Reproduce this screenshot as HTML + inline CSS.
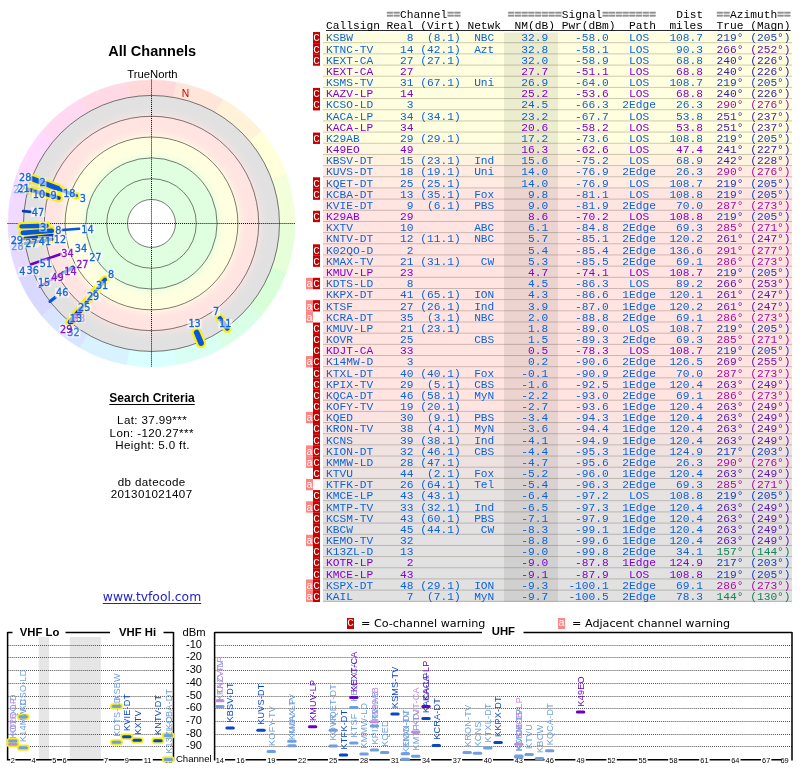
<!DOCTYPE html>
<html lang="en"><head><meta charset="utf-8"><title>TV Fool - All Channels</title>
<style>
html,body{margin:0;padding:0;background:#fff}
body{width:800px;height:768px;position:relative;overflow:hidden;font-family:"Liberation Sans",sans-serif;color:#000}
.abs{position:absolute}
.c{position:absolute;white-space:nowrap;transform:translateX(-50%);line-height:1}
.mono{position:absolute;white-space:pre;font-family:"Liberation Mono",monospace;font-size:10.0px;line-height:12px;height:12px;transform-origin:0 0;transform:scaleX(1.1220);left:326.35px}
.g{color:#909090;font-weight:bold;-webkit-text-stroke:.45px #909090}
.row{position:absolute;left:323px;width:469px}
.sep{position:absolute;left:323px;width:469px;height:1px;background:rgba(40,30,0,.2)}
.fl{position:absolute;width:7px;color:#fff;font-family:"Liberation Mono",monospace;font-size:10px;text-align:center;overflow:hidden}
.fl span{display:block;transform:scaleX(1.1)}
.fa{left:306px}
.fc{left:313px}
svg{position:absolute;left:0;top:0}
svg text{font-family:"DejaVu Sans","Liberation Sans",sans-serif}
</style></head><body><div id="w" style="position:absolute;left:0;top:0;width:800px;height:768px;will-change:transform">

<svg width="800" height="768" viewBox="0 0 800 768">
<rect x="323" y="32.48" width="469" height="11.02" fill="#ffffe0"/>
<rect x="323" y="43.20" width="469" height="11.47" fill="#ffffe0"/>
<rect x="323" y="54.37" width="469" height="11.47" fill="#ffffe0"/>
<rect x="323" y="65.55" width="469" height="11.47" fill="#ffffe0"/>
<rect x="323" y="76.72" width="469" height="11.47" fill="#ffffe0"/>
<rect x="323" y="87.89" width="469" height="11.47" fill="#ffffe0"/>
<rect x="323" y="99.06" width="469" height="11.47" fill="#ffffe0"/>
<rect x="323" y="110.23" width="469" height="11.47" fill="#ffffe0"/>
<rect x="323" y="121.41" width="469" height="11.47" fill="#ffffe0"/>
<rect x="323" y="132.58" width="469" height="11.47" fill="#ffffe0"/>
<rect x="323" y="143.75" width="469" height="11.47" fill="#fff8e0"/>
<rect x="323" y="154.92" width="469" height="11.47" fill="#fff3e0"/>
<rect x="323" y="166.09" width="469" height="11.47" fill="#ffebe1"/>
<rect x="323" y="177.27" width="469" height="11.47" fill="#ffebe1"/>
<rect x="323" y="188.44" width="469" height="11.47" fill="#ffe5e1"/>
<rect x="323" y="199.61" width="469" height="11.47" fill="#ffe5e1"/>
<rect x="323" y="210.78" width="469" height="11.47" fill="#ffe5e1"/>
<rect x="323" y="221.95" width="469" height="11.47" fill="#ffe4e1"/>
<rect x="323" y="233.13" width="469" height="11.47" fill="#ffe4e1"/>
<rect x="323" y="244.30" width="469" height="11.47" fill="#ffe4e1"/>
<rect x="323" y="255.47" width="469" height="11.47" fill="#ffe4e1"/>
<rect x="323" y="266.64" width="469" height="11.47" fill="#ffe4e1"/>
<rect x="323" y="277.81" width="469" height="11.47" fill="#ffe4e1"/>
<rect x="323" y="288.99" width="469" height="11.47" fill="#ffe4e1"/>
<rect x="323" y="300.16" width="469" height="11.47" fill="#ffe4e1"/>
<rect x="323" y="311.33" width="469" height="11.47" fill="#ffe4e1"/>
<rect x="323" y="322.50" width="469" height="11.47" fill="#ffe4e1"/>
<rect x="323" y="333.67" width="469" height="11.47" fill="#ffe4e1"/>
<rect x="323" y="344.85" width="469" height="11.47" fill="#ffe4e1"/>
<rect x="323" y="356.02" width="469" height="11.47" fill="#ffe4e1"/>
<rect x="323" y="367.19" width="469" height="11.47" fill="#ffe4e1"/>
<rect x="323" y="378.36" width="469" height="11.47" fill="#ffe4e1"/>
<rect x="323" y="389.53" width="469" height="11.47" fill="#ffe4e1"/>
<rect x="323" y="400.71" width="469" height="11.47" fill="#ffe4e1"/>
<rect x="323" y="411.88" width="469" height="11.47" fill="#fae3e1"/>
<rect x="323" y="423.05" width="469" height="11.47" fill="#f7e3e1"/>
<rect x="323" y="434.22" width="469" height="11.47" fill="#f2e3e1"/>
<rect x="323" y="445.39" width="469" height="11.47" fill="#f0e2e1"/>
<rect x="323" y="456.57" width="469" height="11.47" fill="#eee2e1"/>
<rect x="323" y="467.74" width="469" height="11.47" fill="#ebe2e1"/>
<rect x="323" y="478.91" width="469" height="11.47" fill="#eae2e1"/>
<rect x="323" y="490.08" width="469" height="11.47" fill="#e6e2e1"/>
<rect x="323" y="501.25" width="469" height="11.47" fill="#e6e2e1"/>
<rect x="323" y="512.43" width="469" height="11.47" fill="#e5e1e1"/>
<rect x="323" y="523.60" width="469" height="11.47" fill="#e3e1e1"/>
<rect x="323" y="534.77" width="469" height="11.47" fill="#e3e1e1"/>
<rect x="323" y="545.94" width="469" height="11.47" fill="#e2e1e1"/>
<rect x="323" y="557.11" width="469" height="11.47" fill="#e2e1e1"/>
<rect x="323" y="568.29" width="469" height="11.47" fill="#e2e1e1"/>
<rect x="323" y="579.46" width="469" height="11.47" fill="#e2e1e1"/>
<rect x="323" y="590.63" width="469" height="11.47" fill="#e2e1e1"/>
<rect x="504" y="32.48" width="54" height="569.32" fill="#282828" fill-opacity=".085"/>
<rect x="323" y="42.20" width="469" height="1" fill="#281e00" fill-opacity=".23"/>
<rect x="323" y="53.37" width="469" height="1" fill="#281e00" fill-opacity=".23"/>
<rect x="323" y="64.55" width="469" height="1" fill="#281e00" fill-opacity=".23"/>
<rect x="323" y="75.72" width="469" height="1" fill="#281e00" fill-opacity=".23"/>
<rect x="323" y="86.89" width="469" height="1" fill="#281e00" fill-opacity=".23"/>
<rect x="323" y="98.06" width="469" height="1" fill="#281e00" fill-opacity=".23"/>
<rect x="323" y="109.23" width="469" height="1" fill="#281e00" fill-opacity=".23"/>
<rect x="323" y="120.41" width="469" height="1" fill="#281e00" fill-opacity=".23"/>
<rect x="323" y="131.58" width="469" height="1" fill="#281e00" fill-opacity=".23"/>
<rect x="323" y="142.75" width="469" height="1" fill="#281e00" fill-opacity=".23"/>
<rect x="323" y="153.92" width="469" height="1" fill="#281e00" fill-opacity=".23"/>
<rect x="323" y="165.09" width="469" height="1" fill="#281e00" fill-opacity=".23"/>
<rect x="323" y="176.27" width="469" height="1" fill="#281e00" fill-opacity=".23"/>
<rect x="323" y="187.44" width="469" height="1" fill="#281e00" fill-opacity=".23"/>
<rect x="323" y="198.61" width="469" height="1" fill="#281e00" fill-opacity=".23"/>
<rect x="323" y="209.78" width="469" height="1" fill="#281e00" fill-opacity=".23"/>
<rect x="323" y="220.95" width="469" height="1" fill="#281e00" fill-opacity=".23"/>
<rect x="323" y="232.13" width="469" height="1" fill="#281e00" fill-opacity=".23"/>
<rect x="323" y="243.30" width="469" height="1" fill="#281e00" fill-opacity=".23"/>
<rect x="323" y="254.47" width="469" height="1" fill="#281e00" fill-opacity=".23"/>
<rect x="323" y="265.64" width="469" height="1" fill="#281e00" fill-opacity=".23"/>
<rect x="323" y="276.81" width="469" height="1" fill="#281e00" fill-opacity=".23"/>
<rect x="323" y="287.99" width="469" height="1" fill="#281e00" fill-opacity=".23"/>
<rect x="323" y="299.16" width="469" height="1" fill="#281e00" fill-opacity=".23"/>
<rect x="323" y="310.33" width="469" height="1" fill="#281e00" fill-opacity=".23"/>
<rect x="323" y="321.50" width="469" height="1" fill="#281e00" fill-opacity=".23"/>
<rect x="323" y="332.67" width="469" height="1" fill="#281e00" fill-opacity=".23"/>
<rect x="323" y="343.85" width="469" height="1" fill="#281e00" fill-opacity=".23"/>
<rect x="323" y="355.02" width="469" height="1" fill="#281e00" fill-opacity=".23"/>
<rect x="323" y="366.19" width="469" height="1" fill="#281e00" fill-opacity=".23"/>
<rect x="323" y="377.36" width="469" height="1" fill="#281e00" fill-opacity=".23"/>
<rect x="323" y="388.53" width="469" height="1" fill="#281e00" fill-opacity=".23"/>
<rect x="323" y="399.71" width="469" height="1" fill="#281e00" fill-opacity=".23"/>
<rect x="323" y="410.88" width="469" height="1" fill="#281e00" fill-opacity=".23"/>
<rect x="323" y="422.05" width="469" height="1" fill="#281e00" fill-opacity=".23"/>
<rect x="323" y="433.22" width="469" height="1" fill="#281e00" fill-opacity=".23"/>
<rect x="323" y="444.39" width="469" height="1" fill="#281e00" fill-opacity=".23"/>
<rect x="323" y="455.57" width="469" height="1" fill="#281e00" fill-opacity=".23"/>
<rect x="323" y="466.74" width="469" height="1" fill="#281e00" fill-opacity=".23"/>
<rect x="323" y="477.91" width="469" height="1" fill="#281e00" fill-opacity=".23"/>
<rect x="323" y="489.08" width="469" height="1" fill="#281e00" fill-opacity=".23"/>
<rect x="323" y="500.25" width="469" height="1" fill="#281e00" fill-opacity=".23"/>
<rect x="323" y="511.43" width="469" height="1" fill="#281e00" fill-opacity=".23"/>
<rect x="323" y="522.60" width="469" height="1" fill="#281e00" fill-opacity=".23"/>
<rect x="323" y="533.77" width="469" height="1" fill="#281e00" fill-opacity=".23"/>
<rect x="323" y="544.94" width="469" height="1" fill="#281e00" fill-opacity=".23"/>
<rect x="323" y="556.11" width="469" height="1" fill="#281e00" fill-opacity=".23"/>
<rect x="323" y="567.29" width="469" height="1" fill="#281e00" fill-opacity=".23"/>
<rect x="323" y="578.46" width="469" height="1" fill="#281e00" fill-opacity=".23"/>
<rect x="323" y="589.63" width="469" height="1" fill="#281e00" fill-opacity=".23"/>
<rect x="323" y="600.80" width="469" height="1" fill="#281e00" fill-opacity=".23"/>
<rect x="313" y="32.03" width="7" height="11.37" fill="#c80000"/>
<rect x="313" y="43.20" width="7" height="11.37" fill="#c80000"/>
<rect x="313" y="54.37" width="7" height="11.37" fill="#c80000"/>
<rect x="313" y="87.89" width="7" height="11.37" fill="#c80000"/>
<rect x="313" y="99.06" width="7" height="11.37" fill="#c80000"/>
<rect x="313" y="132.58" width="7" height="11.37" fill="#c80000"/>
<rect x="313" y="177.27" width="7" height="11.37" fill="#c80000"/>
<rect x="313" y="188.44" width="7" height="11.37" fill="#c80000"/>
<rect x="313" y="210.78" width="7" height="11.37" fill="#c80000"/>
<rect x="313" y="244.30" width="7" height="11.37" fill="#c80000"/>
<rect x="313" y="255.47" width="7" height="11.37" fill="#c80000"/>
<rect x="306" y="277.81" width="7" height="11.37" fill="#ff8484"/>
<rect x="313" y="277.81" width="7" height="11.37" fill="#c80000"/>
<rect x="306" y="300.16" width="7" height="11.37" fill="#ff8484"/>
<rect x="313" y="300.16" width="7" height="11.37" fill="#c80000"/>
<rect x="306" y="311.33" width="7" height="11.37" fill="#ff8484"/>
<rect x="313" y="322.50" width="7" height="11.37" fill="#c80000"/>
<rect x="313" y="333.67" width="7" height="11.37" fill="#c80000"/>
<rect x="313" y="344.85" width="7" height="11.37" fill="#c80000"/>
<rect x="306" y="356.02" width="7" height="11.37" fill="#ff8484"/>
<rect x="313" y="356.02" width="7" height="11.37" fill="#c80000"/>
<rect x="313" y="367.19" width="7" height="11.37" fill="#c80000"/>
<rect x="313" y="378.36" width="7" height="11.37" fill="#c80000"/>
<rect x="313" y="389.53" width="7" height="11.37" fill="#c80000"/>
<rect x="313" y="400.71" width="7" height="11.37" fill="#c80000"/>
<rect x="306" y="411.88" width="7" height="11.37" fill="#ff8484"/>
<rect x="313" y="411.88" width="7" height="11.37" fill="#c80000"/>
<rect x="313" y="423.05" width="7" height="11.37" fill="#c80000"/>
<rect x="313" y="434.22" width="7" height="11.37" fill="#c80000"/>
<rect x="306" y="445.39" width="7" height="11.37" fill="#ff8484"/>
<rect x="313" y="445.39" width="7" height="11.37" fill="#c80000"/>
<rect x="306" y="456.57" width="7" height="11.37" fill="#ff8484"/>
<rect x="313" y="456.57" width="7" height="11.37" fill="#c80000"/>
<rect x="313" y="467.74" width="7" height="11.37" fill="#c80000"/>
<rect x="306" y="478.91" width="7" height="11.37" fill="#ff8484"/>
<rect x="313" y="490.08" width="7" height="11.37" fill="#c80000"/>
<rect x="306" y="501.25" width="7" height="11.37" fill="#ff8484"/>
<rect x="313" y="501.25" width="7" height="11.37" fill="#c80000"/>
<rect x="313" y="512.43" width="7" height="11.37" fill="#c80000"/>
<rect x="313" y="523.60" width="7" height="11.37" fill="#c80000"/>
<rect x="306" y="534.77" width="7" height="11.37" fill="#ff8484"/>
<rect x="313" y="534.77" width="7" height="11.37" fill="#c80000"/>
<rect x="313" y="545.94" width="7" height="11.37" fill="#c80000"/>
<rect x="313" y="557.11" width="7" height="11.37" fill="#c80000"/>
<rect x="313" y="568.29" width="7" height="11.37" fill="#c80000"/>
<rect x="306" y="579.46" width="7" height="11.37" fill="#ff8484"/>
<rect x="313" y="579.46" width="7" height="11.37" fill="#c80000"/>
<rect x="306" y="590.63" width="7" height="11.37" fill="#ff8484"/>
<rect x="313" y="590.63" width="7" height="11.37" fill="#c80000"/>
</svg>
<div class="fl fc" style="top:32.55px;height:12px;line-height:12px"><span>C</span></div>
<div class="fl fc" style="top:44.55px;height:12px;line-height:12px"><span>C</span></div>
<div class="fl fc" style="top:55.55px;height:12px;line-height:12px"><span>C</span></div>
<div class="fl fc" style="top:88.55px;height:12px;line-height:12px"><span>C</span></div>
<div class="fl fc" style="top:99.55px;height:12px;line-height:12px"><span>C</span></div>
<div class="fl fc" style="top:133.55px;height:12px;line-height:12px"><span>C</span></div>
<div class="fl fc" style="top:178.55px;height:12px;line-height:12px"><span>C</span></div>
<div class="fl fc" style="top:189.55px;height:12px;line-height:12px"><span>C</span></div>
<div class="fl fc" style="top:211.55px;height:12px;line-height:12px"><span>C</span></div>
<div class="fl fc" style="top:245.55px;height:12px;line-height:12px"><span>C</span></div>
<div class="fl fc" style="top:256.55px;height:12px;line-height:12px"><span>C</span></div>
<div class="fl fa" style="top:278.55px;height:12px;line-height:12px"><span>a</span></div>
<div class="fl fc" style="top:278.55px;height:12px;line-height:12px"><span>C</span></div>
<div class="fl fa" style="top:301.55px;height:12px;line-height:12px"><span>a</span></div>
<div class="fl fc" style="top:301.55px;height:12px;line-height:12px"><span>C</span></div>
<div class="fl fa" style="top:312.55px;height:12px;line-height:12px"><span>a</span></div>
<div class="fl fc" style="top:323.55px;height:12px;line-height:12px"><span>C</span></div>
<div class="fl fc" style="top:334.55px;height:12px;line-height:12px"><span>C</span></div>
<div class="fl fc" style="top:345.55px;height:12px;line-height:12px"><span>C</span></div>
<div class="fl fa" style="top:356.55px;height:12px;line-height:12px"><span>a</span></div>
<div class="fl fc" style="top:356.55px;height:12px;line-height:12px"><span>C</span></div>
<div class="fl fc" style="top:368.55px;height:12px;line-height:12px"><span>C</span></div>
<div class="fl fc" style="top:379.55px;height:12px;line-height:12px"><span>C</span></div>
<div class="fl fc" style="top:390.55px;height:12px;line-height:12px"><span>C</span></div>
<div class="fl fc" style="top:401.55px;height:12px;line-height:12px"><span>C</span></div>
<div class="fl fa" style="top:412.55px;height:12px;line-height:12px"><span>a</span></div>
<div class="fl fc" style="top:412.55px;height:12px;line-height:12px"><span>C</span></div>
<div class="fl fc" style="top:423.55px;height:12px;line-height:12px"><span>C</span></div>
<div class="fl fc" style="top:435.55px;height:12px;line-height:12px"><span>C</span></div>
<div class="fl fa" style="top:446.55px;height:12px;line-height:12px"><span>a</span></div>
<div class="fl fc" style="top:446.55px;height:12px;line-height:12px"><span>C</span></div>
<div class="fl fa" style="top:457.55px;height:12px;line-height:12px"><span>a</span></div>
<div class="fl fc" style="top:457.55px;height:12px;line-height:12px"><span>C</span></div>
<div class="fl fc" style="top:468.55px;height:12px;line-height:12px"><span>C</span></div>
<div class="fl fa" style="top:479.55px;height:12px;line-height:12px"><span>a</span></div>
<div class="fl fc" style="top:490.55px;height:12px;line-height:12px"><span>C</span></div>
<div class="fl fa" style="top:502.55px;height:12px;line-height:12px"><span>a</span></div>
<div class="fl fc" style="top:502.55px;height:12px;line-height:12px"><span>C</span></div>
<div class="fl fc" style="top:513.55px;height:12px;line-height:12px"><span>C</span></div>
<div class="fl fc" style="top:524.55px;height:12px;line-height:12px"><span>C</span></div>
<div class="fl fa" style="top:535.55px;height:12px;line-height:12px"><span>a</span></div>
<div class="fl fc" style="top:535.55px;height:12px;line-height:12px"><span>C</span></div>
<div class="fl fc" style="top:546.55px;height:12px;line-height:12px"><span>C</span></div>
<div class="fl fc" style="top:557.55px;height:12px;line-height:12px"><span>C</span></div>
<div class="fl fc" style="top:569.55px;height:12px;line-height:12px"><span>C</span></div>
<div class="fl fa" style="top:580.55px;height:12px;line-height:12px"><span>a</span></div>
<div class="fl fc" style="top:580.55px;height:12px;line-height:12px"><span>C</span></div>
<div class="fl fa" style="top:591.55px;height:12px;line-height:12px"><span>a</span></div>
<div class="fl fc" style="top:591.55px;height:12px;line-height:12px"><span>C</span></div>
<div class="mono" style="top:9.75px">         <span class="g">==</span>Channel<span class="g">==</span>       <span class="g">========</span>Signal<span class="g">========</span>   Dist  <span class="g">==</span>Azimuth<span class="g">==</span></div>
<div class="mono" style="top:20.75px;text-decoration:underline;text-underline-offset:1px;text-decoration-thickness:1px;text-decoration-skip-ink:none;text-decoration-color:#2a2a2a">Callsign Real (Virt) Netwk  NM(dB) Pwr(dBm)  Path  miles  True (Magn)</div>
<div class="mono" style="top:32.75px"><span style="color:#0c62dc">KSBW        8  (8.1)  NBC    32.9    -58.0   LOS   108.7  </span><span style="color:#173dbd">219° (205°)</span></div>
<div class="mono" style="top:44.75px"><span style="color:#0c62dc">KTNC-TV    14 (42.1)  Azt    32.8    -58.1   LOS    90.3  </span><span style="color:#6215ab">266° (252°)</span></div>
<div class="mono" style="top:55.75px"><span style="color:#0c62dc">KEXT-CA    27 (27.1)         32.0    -58.9   LOS    68.8  </span><span style="color:#3220a8">240° (226°)</span></div>
<div class="mono" style="top:66.75px"><span style="color:#8000dc">KEXT-CA    27                27.7    -51.1   LOS    68.8  </span><span style="color:#3220a8">240° (226°)</span></div>
<div class="mono" style="top:77.75px"><span style="color:#0c62dc">KSMS-TV    31 (67.1)  Uni    26.9    -64.0   LOS   108.7  </span><span style="color:#173dbd">219° (205°)</span></div>
<div class="mono" style="top:88.75px"><span style="color:#8000dc">KAZV-LP    14                25.2    -53.6   LOS    68.8  </span><span style="color:#3220a8">240° (226°)</span></div>
<div class="mono" style="top:99.75px"><span style="color:#0c62dc">KCSO-LD     3                24.5    -66.3  2Edge   26.3  </span><span style="color:#ab0b9c">290° (276°)</span></div>
<div class="mono" style="top:111.75px"><span style="color:#0c62dc">KACA-LP    34 (34.1)         23.2    -67.7   LOS    53.8  </span><span style="color:#441baa">251° (237°)</span></div>
<div class="mono" style="top:122.75px"><span style="color:#8000dc">KACA-LP    34                20.6    -58.2   LOS    53.8  </span><span style="color:#441baa">251° (237°)</span></div>
<div class="mono" style="top:133.75px"><span style="color:#0c62dc">K29AB      29 (29.1)         17.2    -73.6   LOS   108.8  </span><span style="color:#173dbd">219° (205°)</span></div>
<div class="mono" style="top:144.75px"><span style="color:#8000dc">K49EO      49                16.3    -62.6   LOS    47.4  </span><span style="color:#3420a8">241° (227°)</span></div>
<div class="mono" style="top:155.75px"><span style="color:#0c62dc">KBSV-DT    15 (23.1)  Ind    15.6    -75.2   LOS    68.9  </span><span style="color:#351fa8">242° (228°)</span></div>
<div class="mono" style="top:166.75px"><span style="color:#0c62dc">KUVS-DT    18 (19.1)  Uni    14.0    -76.9  2Edge   26.3  </span><span style="color:#ab0b9c">290° (276°)</span></div>
<div class="mono" style="top:178.75px"><span style="color:#0c62dc">KQET-DT    25 (25.1)         14.0    -76.9   LOS   108.7  </span><span style="color:#173dbd">219° (205°)</span></div>
<div class="mono" style="top:189.75px"><span style="color:#0c62dc">KCBA-DT    13 (35.1)  Fox     9.8    -81.1   LOS   108.8  </span><span style="color:#173dbd">219° (205°)</span></div>
<div class="mono" style="top:200.75px"><span style="color:#0c62dc">KVIE-DT     9  (6.1)  PBS     9.0    -81.9  2Edge   70.0  </span><span style="color:#a90ca0">287° (273°)</span></div>
<div class="mono" style="top:211.75px"><span style="color:#8000dc">K29AB      29                 8.6    -70.2   LOS   108.8  </span><span style="color:#173dbd">219° (205°)</span></div>
<div class="mono" style="top:222.75px"><span style="color:#0c62dc">KXTV       10         ABC     6.1    -84.8  2Edge   69.3  </span><span style="color:#a50ca2">285° (271°)</span></div>
<div class="mono" style="top:233.75px"><span style="color:#0c62dc">KNTV-DT    12 (11.1)  NBC     5.7    -85.1  2Edge  120.2  </span><span style="color:#5517ac">261° (247°)</span></div>
<div class="mono" style="top:245.75px"><span style="color:#0c62dc">K02QO-D     2                 5.4    -85.4  2Edge  136.6  </span><span style="color:#ac0b9a">291° (277°)</span></div>
<div class="mono" style="top:256.75px"><span style="color:#0c62dc">KMAX-TV    21 (31.1)   CW     5.3    -85.5  2Edge   69.1  </span><span style="color:#a80ca2">286° (273°)</span></div>
<div class="mono" style="top:267.75px"><span style="color:#8000dc">KMUV-LP    23                 4.7    -74.1   LOS   108.7  </span><span style="color:#173dbd">219° (205°)</span></div>
<div class="mono" style="top:278.75px"><span style="color:#0c62dc">KDTS-LD     8                 4.5    -86.3   LOS    89.2  </span><span style="color:#6215ab">266° (253°)</span></div>
<div class="mono" style="top:289.75px"><span style="color:#0c62dc">KKPX-DT    41 (65.1)  ION     4.3    -86.6  1Edge  120.1  </span><span style="color:#5517ac">261° (247°)</span></div>
<div class="mono" style="top:301.75px"><span style="color:#0c62dc">KTSF       27 (26.1)  Ind     3.9    -87.0  1Edge  120.2  </span><span style="color:#5517ac">261° (247°)</span></div>
<div class="mono" style="top:312.75px"><span style="color:#0c62dc">KCRA-DT    35  (3.1)  NBC     2.0    -88.8  2Edge   69.1  </span><span style="color:#a80ca2">286° (273°)</span></div>
<div class="mono" style="top:323.75px"><span style="color:#0c62dc">KMUV-LP    21 (23.1)          1.8    -89.0   LOS   108.7  </span><span style="color:#173dbd">219° (205°)</span></div>
<div class="mono" style="top:334.75px"><span style="color:#0c62dc">KOVR       25         CBS     1.5    -89.3  2Edge   69.3  </span><span style="color:#a50ca2">285° (271°)</span></div>
<div class="mono" style="top:345.75px"><span style="color:#8000dc">KDJT-CA    33                 0.5    -78.3   LOS   108.7  </span><span style="color:#173dbd">219° (205°)</span></div>
<div class="mono" style="top:356.75px"><span style="color:#0c62dc">K14MW-D     3                 0.2    -90.6  2Edge  126.5  </span><span style="color:#6d13a9">269° (255°)</span></div>
<div class="mono" style="top:368.75px"><span style="color:#0c62dc">KTXL-DT    40 (40.1)  Fox    -0.1    -90.9  2Edge   70.0  </span><span style="color:#a90ca0">287° (273°)</span></div>
<div class="mono" style="top:379.75px"><span style="color:#0c62dc">KPIX-TV    29  (5.1)  CBS    -1.6    -92.5  1Edge  120.4  </span><span style="color:#5816ac">263° (249°)</span></div>
<div class="mono" style="top:390.75px"><span style="color:#0c62dc">KQCA-DT    46 (58.1)  MyN    -2.2    -93.0  2Edge   69.1  </span><span style="color:#a80ca2">286° (273°)</span></div>
<div class="mono" style="top:401.75px"><span style="color:#0c62dc">KOFY-TV    19 (20.1)         -2.7    -93.6  1Edge  120.4  </span><span style="color:#5816ac">263° (249°)</span></div>
<div class="mono" style="top:412.75px"><span style="color:#0c62dc">KQED       30  (9.1)  PBS    -3.4    -94.3  1Edge  120.4  </span><span style="color:#5816ac">263° (249°)</span></div>
<div class="mono" style="top:423.75px"><span style="color:#0c62dc">KRON-TV    38  (4.1)  MyN    -3.6    -94.4  1Edge  120.4  </span><span style="color:#5816ac">263° (249°)</span></div>
<div class="mono" style="top:435.75px"><span style="color:#0c62dc">KCNS       39 (38.1)  Ind    -4.1    -94.9  1Edge  120.4  </span><span style="color:#5816ac">263° (249°)</span></div>
<div class="mono" style="top:446.75px"><span style="color:#0c62dc">KION-DT    32 (46.1)  CBS    -4.4    -95.3  1Edge  124.9  </span><span style="color:#1640bd">217° (203°)</span></div>
<div class="mono" style="top:457.75px"><span style="color:#0c62dc">KMMW-LD    28 (47.1)         -4.7    -95.6  2Edge   26.3  </span><span style="color:#ab0b9c">290° (276°)</span></div>
<div class="mono" style="top:468.75px"><span style="color:#0c62dc">KTVU       44  (2.1)  Fox    -5.2    -96.0  1Edge  120.4  </span><span style="color:#5816ac">263° (249°)</span></div>
<div class="mono" style="top:479.75px"><span style="color:#0c62dc">KTFK-DT    26 (64.1)  Tel    -5.4    -96.3  2Edge   69.3  </span><span style="color:#a50ca2">285° (271°)</span></div>
<div class="mono" style="top:490.75px"><span style="color:#0c62dc">KMCE-LP    43 (43.1)         -6.4    -97.2   LOS   108.8  </span><span style="color:#173dbd">219° (205°)</span></div>
<div class="mono" style="top:502.75px"><span style="color:#0c62dc">KMTP-TV    33 (32.1)  Ind    -6.5    -97.3  1Edge  120.4  </span><span style="color:#5816ac">263° (249°)</span></div>
<div class="mono" style="top:513.75px"><span style="color:#0c62dc">KCSM-TV    43 (60.1)  PBS    -7.1    -97.9  1Edge  120.4  </span><span style="color:#5816ac">263° (249°)</span></div>
<div class="mono" style="top:524.75px"><span style="color:#0c62dc">KBCW       45 (44.1)   CW    -8.3    -99.1  1Edge  120.4  </span><span style="color:#5816ac">263° (249°)</span></div>
<div class="mono" style="top:535.75px"><span style="color:#0c62dc">KEMO-TV    32                -8.8    -99.6  1Edge  120.4  </span><span style="color:#5816ac">263° (249°)</span></div>
<div class="mono" style="top:546.75px"><span style="color:#0c62dc">K13ZL-D    13                -9.0    -99.8  2Edge   34.1  </span><span style="color:#148258">157° (144°)</span></div>
<div class="mono" style="top:557.75px"><span style="color:#8000dc">KOTR-LP     2                -9.0    -87.8  1Edge  124.9  </span><span style="color:#1640bd">217° (203°)</span></div>
<div class="mono" style="top:569.75px"><span style="color:#8000dc">KMCE-LP    43                -9.1    -87.9   LOS   108.8  </span><span style="color:#173dbd">219° (205°)</span></div>
<div class="mono" style="top:580.75px"><span style="color:#0c62dc">KSPX-DT    48 (29.1)  ION    -9.3   -100.1  2Edge   69.1  </span><span style="color:#a80ca2">286° (273°)</span></div>
<div class="mono" style="top:591.75px"><span style="color:#0c62dc">KAIL        7  (7.1)  MyN    -9.7   -100.5  2Edge   78.3  </span><span style="color:#148250">144° (130°)</span></div>
<div class="c" style="left:152.2px;top:43.63px;font-size:14.5px;font-weight:bold">All Channels</div>
<div class="c" style="left:152.4px;top:68.63px;font-size:11.3px;">TrueNorth</div>
<div class="c" style="left:152.0px;top:391.84px;font-size:12px;font-weight:bold;text-decoration:underline;text-decoration-skip-ink:none;text-underline-offset:1.5px">Search Criteria</div>
<div class="c" style="left:151.9px;top:414.08px;font-size:11.6px;letter-spacing:.37px;margin-left:.18px">Lat: 37.99***</div>
<div class="c" style="left:151.5px;top:427.08px;font-size:11.6px;letter-spacing:.37px;margin-left:.18px">Lon: -120.27***</div>
<div class="c" style="left:152.4px;top:439.38px;font-size:11.6px;letter-spacing:.37px;margin-left:.18px">Height: 5.0 ft.</div>
<div class="c" style="left:151.5px;top:475.78px;font-size:11.6px;letter-spacing:.37px;margin-left:.18px">db datecode</div>
<div class="c" style="left:151.4px;top:488.18px;font-size:11.6px;letter-spacing:.37px;margin-left:.18px">201301021407</div>
<div class="c" style="left:152.0px;top:590.53px;font-size:12.35px;font-family:'DejaVu Sans','Liberation Sans',sans-serif;color:#2222cc;text-decoration:underline;text-decoration-skip-ink:none;text-underline-offset:1.5px">www.tvfool.com</div>
<div class="abs" style="left:347px;top:617.5px;width:7px;height:11px;background:#c80000"></div>
<div class="fl" style="left:347px;top:617.5px;height:11px;line-height:11.5px"><span>C</span></div>
<div class="abs" style="left:361px;top:618.12px;font:11.2px/1 'DejaVu Sans','Liberation Sans',sans-serif;white-space:nowrap">= Co-channel warning</div>
<div class="abs" style="left:557.5px;top:617.5px;width:7px;height:11px;background:#ff8484"></div>
<div class="fl" style="left:557.5px;top:617.5px;height:11px;line-height:11.5px"><span>a</span></div>
<div class="abs" style="left:572px;top:618.12px;font:11.2px/1 'DejaVu Sans','Liberation Sans',sans-serif;white-space:nowrap">= Adjacent channel warning</div>
<svg width="800" height="768" viewBox="0 0 800 768">
<defs><radialGradient id="bands" gradientUnits="userSpaceOnUse" cx="151.5" cy="223.45" r="128.0">
<stop offset="0.0000" stop-color="#e0ffe0"/>
<stop offset="0.5086" stop-color="#e0ffe0"/>
<stop offset="0.5203" stop-color="#ecffe0"/>
<stop offset="0.5281" stop-color="#f1ffe0"/>
<stop offset="0.5398" stop-color="#f6ffe0"/>
<stop offset="0.5516" stop-color="#f9ffe0"/>
<stop offset="0.5672" stop-color="#fcffe0"/>
<stop offset="0.5867" stop-color="#feffe0"/>
<stop offset="0.6141" stop-color="#ffffe0"/>
<stop offset="0.6711" stop-color="#ffffe0"/>
<stop offset="0.6828" stop-color="#fff5e0"/>
<stop offset="0.6906" stop-color="#fff0e1"/>
<stop offset="0.7023" stop-color="#ffece1"/>
<stop offset="0.7141" stop-color="#ffe9e1"/>
<stop offset="0.7297" stop-color="#ffe7e1"/>
<stop offset="0.7492" stop-color="#ffe5e1"/>
<stop offset="0.7766" stop-color="#ffe4e1"/>
<stop offset="0.8336" stop-color="#ffe4e1"/>
<stop offset="0.8453" stop-color="#f4e3e1"/>
<stop offset="0.8531" stop-color="#efe2e1"/>
<stop offset="0.8648" stop-color="#eae2e1"/>
<stop offset="0.8766" stop-color="#e6e2e1"/>
<stop offset="0.8922" stop-color="#e4e1e1"/>
<stop offset="0.9117" stop-color="#e2e1e1"/>
<stop offset="0.9391" stop-color="#e1e1e1"/>
<stop offset="1.0000" stop-color="#e1e1e1"/>
</radialGradient></defs>
<path d="M151.50 223.45L126.58 82.13A143.50 143.50 0 0 1 176.42 82.13Z" fill="#ffd9d9" stroke="#ffd9d9" stroke-width=".4"/>
<path d="M151.50 223.45L176.42 82.13A143.50 143.50 0 0 1 223.25 99.18Z" fill="#ffe6d9" stroke="#ffe6d9" stroke-width=".4"/>
<path d="M151.50 223.45L223.25 99.18A143.50 143.50 0 0 1 261.43 131.21Z" fill="#fff2d9" stroke="#fff2d9" stroke-width=".4"/>
<path d="M151.50 223.45L261.43 131.21A143.50 143.50 0 0 1 286.35 174.37Z" fill="#ffffd9" stroke="#ffffd9" stroke-width=".4"/>
<path d="M151.50 223.45L286.35 174.37A143.50 143.50 0 0 1 295.00 223.45Z" fill="#f2ffd9" stroke="#f2ffd9" stroke-width=".4"/>
<path d="M151.50 223.45L295.00 223.45A143.50 143.50 0 0 1 286.35 272.53Z" fill="#e6ffd9" stroke="#e6ffd9" stroke-width=".4"/>
<path d="M151.50 223.45L286.35 272.53A143.50 143.50 0 0 1 261.43 315.69Z" fill="#d9ffd9" stroke="#d9ffd9" stroke-width=".4"/>
<path d="M151.50 223.45L261.43 315.69A143.50 143.50 0 0 1 223.25 347.72Z" fill="#d9ffe6" stroke="#d9ffe6" stroke-width=".4"/>
<path d="M151.50 223.45L223.25 347.72A143.50 143.50 0 0 1 176.42 364.77Z" fill="#d9fff2" stroke="#d9fff2" stroke-width=".4"/>
<path d="M151.50 223.45L176.42 364.77A143.50 143.50 0 0 1 126.58 364.77Z" fill="#d9ffff" stroke="#d9ffff" stroke-width=".4"/>
<path d="M151.50 223.45L126.58 364.77A143.50 143.50 0 0 1 79.75 347.72Z" fill="#d9f2ff" stroke="#d9f2ff" stroke-width=".4"/>
<path d="M151.50 223.45L79.75 347.72A143.50 143.50 0 0 1 41.57 315.69Z" fill="#d9e5ff" stroke="#d9e5ff" stroke-width=".4"/>
<path d="M151.50 223.45L41.57 315.69A143.50 143.50 0 0 1 16.65 272.53Z" fill="#d9d9ff" stroke="#d9d9ff" stroke-width=".4"/>
<path d="M151.50 223.45L16.65 272.53A143.50 143.50 0 0 1 8.00 223.45Z" fill="#e5d9ff" stroke="#e5d9ff" stroke-width=".4"/>
<path d="M151.50 223.45L8.00 223.45A143.50 143.50 0 0 1 16.65 174.37Z" fill="#f2d9ff" stroke="#f2d9ff" stroke-width=".4"/>
<path d="M151.50 223.45L16.65 174.37A143.50 143.50 0 0 1 41.57 131.21Z" fill="#ffd9ff" stroke="#ffd9ff" stroke-width=".4"/>
<path d="M151.50 223.45L41.57 131.21A143.50 143.50 0 0 1 79.75 99.18Z" fill="#ffd9f2" stroke="#ffd9f2" stroke-width=".4"/>
<path d="M151.50 223.45L79.75 99.18A143.50 143.50 0 0 1 126.58 82.13Z" fill="#ffd9e6" stroke="#ffd9e6" stroke-width=".4"/>
<circle cx="151.5" cy="223.45" r="128.0" fill="url(#bands)"/>
<circle cx="151.5" cy="223.45" r="24.0" fill="#fff"/>
<circle cx="151.5" cy="223.45" r="24.0" fill="none" stroke="#333" stroke-width=".65"/>
<circle cx="151.5" cy="223.45" r="44.8" fill="none" stroke="#333" stroke-width=".65"/>
<circle cx="151.5" cy="223.45" r="65.6" fill="none" stroke="#333" stroke-width=".65"/>
<circle cx="151.5" cy="223.45" r="86.4" fill="none" stroke="#333" stroke-width=".65"/>
<circle cx="151.5" cy="223.45" r="107.2" fill="none" stroke="#333" stroke-width=".65"/>
<circle cx="151.5" cy="223.45" r="128.0" fill="none" stroke="#333" stroke-width=".65"/>
<path d="M7.5 223.5H295.5M151.5 79.5V366.5" stroke="#000" stroke-width="1" stroke-dasharray="1 1.03" fill="none"/>
<text x="185.4" y="97.3" font-size="10.3" fill="#cc0000" text-anchor="middle" style="font-family:'Liberation Sans',sans-serif">N</text>
<path d="M57.8 188.4L32.1 178.8" stroke="#f8ee0a" stroke-width="9.6" stroke-linecap="round"/>
<path d="M76.5 195.7L57.7 188.8" stroke="#f8ee0a" stroke-width="7.6" stroke-linecap="round"/>
<path d="M58.9 198.0L27.1 189.2" stroke="#f8ee0a" stroke-width="8.2" stroke-linecap="round"/>
<path d="M46.5 225.8L21.5 226.4" stroke="#f8ee0a" stroke-width="8.8" stroke-linecap="round"/>
<path d="M51.8 230.8L22.8 232.9" stroke="#f8ee0a" stroke-width="9.0" stroke-linecap="round"/>
<path d="M52.7 239.1L25.1 243.5" stroke="#f8ee0a" stroke-width="7.6" stroke-linecap="round"/>
<path d="M105.0 279.7L69.6 322.5" stroke="#f8ee0a" stroke-width="8.6" stroke-linecap="round"/>
<path d="M80.9 309.1L70.1 322.2" stroke="#f8ee0a" stroke-width="9.4" stroke-linecap="round"/>
<path d="M196.7 332.5L201.1 343.1" stroke="#f8ee0a" stroke-width="10.0" stroke-linecap="round"/>
<path d="M219.9 318.3L227.3 328.5" stroke="#f8ee0a" stroke-width="9.0" stroke-linecap="round"/>
<path d="M57.8 188.4L32.1 178.8" stroke="#0a55de" stroke-width="5.2" stroke-linecap="round"/>
<path d="M76.5 195.7L57.7 188.8" stroke="#0a55de" stroke-width="3.2" stroke-linecap="round"/>
<path d="M58.9 198.0L27.1 189.2" stroke="#0a3fb0" stroke-width="3.8" stroke-linecap="round"/>
<path d="M31.1 211.9L23.1 211.1" stroke="#0a3fb0" stroke-width="2.6" stroke-linecap="round"/>
<path d="M46.5 225.8L21.5 226.4" stroke="#0a55de" stroke-width="4.4" stroke-linecap="round"/>
<path d="M51.8 230.8L22.8 232.9" stroke="#0a55de" stroke-width="4.6" stroke-linecap="round"/>
<path d="M79.2 228.8L62.2 230.0" stroke="#0a55de" stroke-width="2.6" stroke-linecap="round"/>
<path d="M52.7 239.1L25.1 243.5" stroke="#0a3fb0" stroke-width="3.2" stroke-linecap="round"/>
<path d="M52.2 235.3L23.4 238.7" stroke="#0a3fb0" stroke-width="3.2" stroke-linecap="round"/>
<path d="M61.0 254.1L31.2 264.2" stroke="#6a00c8" stroke-width="2.6" stroke-linecap="round"/>
<path d="M64.4 272.5L39.5 286.5" stroke="#4a00a8" stroke-width="2.4" stroke-linecap="round"/>
<path d="M72.9 267.4L62.5 273.2" stroke="#0a3fb0" stroke-width="3.6" stroke-linecap="round"/>
<path d="M55.1 297.4L50.0 301.4" stroke="#0a55de" stroke-width="3.2" stroke-linecap="round"/>
<path d="M105.0 279.7L69.6 322.5" stroke="#f8ee0a" stroke-width="4.2" stroke-linecap="round"/>
<path d="M105.0 279.7L69.6 322.5" stroke="#0a55de" stroke-width="2.8" stroke-linecap="round"/>
<path d="M105.0 279.7L101.8 283.6" stroke="#0a55de" stroke-width="4.2" stroke-linecap="round"/>
<path d="M80.9 309.1L70.1 322.2" stroke="#0a3fb0" stroke-width="5.0" stroke-linecap="round"/>
<path d="M81.6 311.0L72.0 323.1" stroke="#6a00c8" stroke-width="2.4" stroke-linecap="round"/>
<path d="M196.7 332.5L201.1 343.1" stroke="#0a55de" stroke-width="5.6" stroke-linecap="round"/>
<path d="M219.9 318.3L227.3 328.5" stroke="#0a55de" stroke-width="4.6" stroke-linecap="round"/>
<rect x="12.4" y="184.5" width="14.2" height="9.6" fill="#fff" opacity="0.26"/>
<rect x="10.4" y="241.5" width="14.2" height="9.6" fill="#fff" opacity="0.35"/>
<rect x="71.9" y="313.5" width="14.2" height="9.6" fill="#fff" opacity="0.23"/>
<rect x="66.3" y="328.0" width="14.2" height="9.6" fill="#fff" opacity="0.49"/>
<rect x="18.1" y="172.6" width="14.2" height="9.6" fill="#fff" opacity="0.58"/>
<rect x="38.6" y="177.6" width="7.9" height="9.6" fill="#fff" opacity="0.58"/>
<rect x="16.4" y="183.4" width="14.2" height="9.6" fill="#fff" opacity="0.58"/>
<rect x="31.9" y="189.2" width="14.2" height="9.6" fill="#fff" opacity="0.58"/>
<rect x="49.5" y="190.0" width="7.9" height="9.6" fill="#fff" opacity="0.58"/>
<rect x="62.2" y="188.4" width="14.2" height="9.6" fill="#fff" opacity="0.58"/>
<rect x="79.0" y="193.5" width="7.9" height="9.6" fill="#fff" opacity="0.58"/>
<rect x="30.9" y="207.4" width="14.2" height="9.6" fill="#fff" opacity="0.58"/>
<rect x="39.2" y="222.1" width="7.9" height="9.6" fill="#fff" opacity="0.58"/>
<rect x="54.4" y="225.8" width="7.9" height="9.6" fill="#fff" opacity="0.58"/>
<rect x="80.4" y="224.0" width="14.2" height="9.6" fill="#fff" opacity="0.58"/>
<rect x="9.7" y="235.6" width="14.2" height="9.6" fill="#fff" opacity="0.58"/>
<rect x="24.2" y="238.2" width="14.2" height="9.6" fill="#fff" opacity="0.58"/>
<rect x="37.9" y="236.0" width="14.2" height="9.6" fill="#fff" opacity="0.58"/>
<rect x="52.9" y="234.8" width="14.2" height="9.6" fill="#fff" opacity="0.58"/>
<rect x="60.3" y="248.6" width="14.2" height="9.6" fill="#fff" opacity="0.58"/>
<rect x="73.9" y="243.5" width="14.2" height="9.6" fill="#fff" opacity="0.58"/>
<rect x="88.2" y="252.4" width="14.2" height="9.6" fill="#fff" opacity="0.58"/>
<rect x="75.2" y="259.6" width="14.2" height="9.6" fill="#fff" opacity="0.58"/>
<rect x="38.8" y="258.8" width="14.2" height="9.6" fill="#fff" opacity="0.58"/>
<rect x="18.4" y="266.9" width="7.9" height="9.6" fill="#fff" opacity="0.58"/>
<rect x="25.6" y="265.6" width="14.2" height="9.6" fill="#fff" opacity="0.58"/>
<rect x="63.3" y="266.9" width="14.2" height="9.6" fill="#fff" opacity="0.58"/>
<rect x="50.4" y="272.6" width="14.2" height="9.6" fill="#fff" opacity="0.58"/>
<rect x="37.0" y="277.4" width="14.2" height="9.6" fill="#fff" opacity="0.58"/>
<rect x="55.1" y="287.9" width="14.2" height="9.6" fill="#fff" opacity="0.58"/>
<rect x="107.1" y="269.8" width="7.9" height="9.6" fill="#fff" opacity="0.58"/>
<rect x="95.0" y="281.0" width="14.2" height="9.6" fill="#fff" opacity="0.58"/>
<rect x="86.0" y="291.5" width="14.2" height="9.6" fill="#fff" opacity="0.58"/>
<rect x="77.1" y="302.5" width="14.2" height="9.6" fill="#fff" opacity="0.58"/>
<rect x="68.9" y="313.3" width="14.2" height="9.6" fill="#fff" opacity="0.58"/>
<rect x="59.1" y="324.3" width="14.2" height="9.6" fill="#fff" opacity="0.58"/>
<rect x="187.5" y="319.0" width="14.2" height="9.6" fill="#fff" opacity="0.58"/>
<rect x="212.2" y="306.6" width="7.9" height="9.6" fill="#fff" opacity="0.58"/>
<rect x="218.1" y="319.0" width="14.2" height="9.6" fill="#fff" opacity="0.58"/>
<text x="19.5" y="193.0" font-size="9.7" text-anchor="middle" fill="#1464dc" stroke="#1464dc" stroke-width=".3" opacity="0.45">22</text>
<text x="17.5" y="250.0" font-size="9.7" text-anchor="middle" fill="#1464dc" stroke="#1464dc" stroke-width=".3" opacity="0.6">28</text>
<text x="79.0" y="321.9" font-size="9.7" text-anchor="middle" fill="#8a10d0" stroke="#8a10d0" stroke-width=".3" opacity="0.4">33</text>
<text x="73.4" y="336.4" font-size="9.7" text-anchor="middle" fill="#1464dc" stroke="#1464dc" stroke-width=".3" opacity="0.85">32</text>
<text x="25.2" y="181.1" font-size="9.7" text-anchor="middle" fill="#1464dc" stroke="#1464dc" stroke-width=".3" opacity="1">28</text>
<text x="42.6" y="186.1" font-size="9.7" text-anchor="middle" fill="#1464dc" stroke="#1464dc" stroke-width=".3" opacity="1">2</text>
<text x="23.5" y="191.8" font-size="9.7" text-anchor="middle" fill="#1464dc" stroke="#1464dc" stroke-width=".3" opacity="1">21</text>
<text x="39.0" y="197.7" font-size="9.7" text-anchor="middle" fill="#1464dc" stroke="#1464dc" stroke-width=".3" opacity="1">10</text>
<text x="53.5" y="198.5" font-size="9.7" text-anchor="middle" fill="#1464dc" stroke="#1464dc" stroke-width=".3" opacity="1">9</text>
<text x="69.3" y="196.8" font-size="9.7" text-anchor="middle" fill="#1464dc" stroke="#1464dc" stroke-width=".3" opacity="1">18</text>
<text x="82.9" y="202.0" font-size="9.7" text-anchor="middle" fill="#1464dc" stroke="#1464dc" stroke-width=".3" opacity="1">3</text>
<text x="38.0" y="215.8" font-size="9.7" text-anchor="middle" fill="#1464dc" stroke="#1464dc" stroke-width=".3" opacity="1">47</text>
<text x="43.2" y="230.6" font-size="9.7" text-anchor="middle" fill="#1464dc" stroke="#1464dc" stroke-width=".3" opacity="1">3</text>
<text x="58.4" y="234.2" font-size="9.7" text-anchor="middle" fill="#1464dc" stroke="#1464dc" stroke-width=".3" opacity="1">8</text>
<text x="87.5" y="232.5" font-size="9.7" text-anchor="middle" fill="#1464dc" stroke="#1464dc" stroke-width=".3" opacity="1">14</text>
<text x="16.8" y="244.1" font-size="9.7" text-anchor="middle" fill="#1464dc" stroke="#1464dc" stroke-width=".3" opacity="1">29</text>
<text x="31.3" y="246.7" font-size="9.7" text-anchor="middle" fill="#1464dc" stroke="#1464dc" stroke-width=".3" opacity="1">27</text>
<text x="45.0" y="244.5" font-size="9.7" text-anchor="middle" fill="#1464dc" stroke="#1464dc" stroke-width=".3" opacity="1">41</text>
<text x="60.0" y="243.2" font-size="9.7" text-anchor="middle" fill="#1464dc" stroke="#1464dc" stroke-width=".3" opacity="1">12</text>
<text x="67.4" y="257.1" font-size="9.7" text-anchor="middle" fill="#8a10d0" stroke="#8a10d0" stroke-width=".3" opacity="1">34</text>
<text x="81.0" y="252.0" font-size="9.7" text-anchor="middle" fill="#1464dc" stroke="#1464dc" stroke-width=".3" opacity="1">34</text>
<text x="95.3" y="260.8" font-size="9.7" text-anchor="middle" fill="#1464dc" stroke="#1464dc" stroke-width=".3" opacity="1">27</text>
<text x="82.3" y="268.0" font-size="9.7" text-anchor="middle" fill="#8a10d0" stroke="#8a10d0" stroke-width=".3" opacity="1">27</text>
<text x="45.9" y="267.2" font-size="9.7" text-anchor="middle" fill="#1464dc" stroke="#1464dc" stroke-width=".3" opacity="1">51</text>
<text x="22.3" y="275.3" font-size="9.7" text-anchor="middle" fill="#1464dc" stroke="#1464dc" stroke-width=".3" opacity="1">4</text>
<text x="32.7" y="274.0" font-size="9.7" text-anchor="middle" fill="#1464dc" stroke="#1464dc" stroke-width=".3" opacity="1">36</text>
<text x="70.4" y="275.3" font-size="9.7" text-anchor="middle" fill="#8a10d0" stroke="#8a10d0" stroke-width=".3" opacity="1">14</text>
<text x="57.5" y="281.0" font-size="9.7" text-anchor="middle" fill="#8a10d0" stroke="#8a10d0" stroke-width=".3" opacity="1">49</text>
<text x="44.1" y="285.8" font-size="9.7" text-anchor="middle" fill="#1464dc" stroke="#1464dc" stroke-width=".3" opacity="1">15</text>
<text x="62.2" y="296.3" font-size="9.7" text-anchor="middle" fill="#1464dc" stroke="#1464dc" stroke-width=".3" opacity="1">46</text>
<text x="111.1" y="278.2" font-size="9.7" text-anchor="middle" fill="#1464dc" stroke="#1464dc" stroke-width=".3" opacity="1">8</text>
<text x="102.1" y="289.4" font-size="9.7" text-anchor="middle" fill="#1464dc" stroke="#1464dc" stroke-width=".3" opacity="1">31</text>
<text x="93.1" y="299.9" font-size="9.7" text-anchor="middle" fill="#1464dc" stroke="#1464dc" stroke-width=".3" opacity="1">29</text>
<text x="84.2" y="310.9" font-size="9.7" text-anchor="middle" fill="#1464dc" stroke="#1464dc" stroke-width=".3" opacity="1">25</text>
<text x="76.0" y="321.8" font-size="9.7" text-anchor="middle" fill="#1464dc" stroke="#1464dc" stroke-width=".3" opacity="1">13</text>
<text x="66.2" y="332.8" font-size="9.7" text-anchor="middle" fill="#8a10d0" stroke="#8a10d0" stroke-width=".3" opacity="1">29</text>
<text x="194.6" y="327.4" font-size="9.7" text-anchor="middle" fill="#1464dc" stroke="#1464dc" stroke-width=".3" opacity="1">13</text>
<text x="216.1" y="315.0" font-size="9.7" text-anchor="middle" fill="#1464dc" stroke="#1464dc" stroke-width=".3" opacity="1">7</text>
<text x="225.2" y="327.4" font-size="9.7" text-anchor="middle" fill="#1464dc" stroke="#1464dc" stroke-width=".3" opacity="1">11</text>
<rect x="38.7" y="637" width="10.4" height="122.8" fill="#e6e6e6"/>
<rect x="69.8" y="637" width="31.1" height="122.8" fill="#e6e6e6"/>
<path d="M7.6 645.50H173.5M214.6 645.50H792.0" stroke="#505050" stroke-width="1" stroke-dasharray="1 1.03"/>
<path d="M7.6 657.50H173.5M214.6 657.50H792.0" stroke="#505050" stroke-width="1" stroke-dasharray="1 1.03"/>
<path d="M7.6 670.50H173.5M214.6 670.50H792.0" stroke="#505050" stroke-width="1" stroke-dasharray="1 1.03"/>
<path d="M7.6 683.50H173.5M214.6 683.50H792.0" stroke="#505050" stroke-width="1" stroke-dasharray="1 1.03"/>
<path d="M7.6 696.50H173.5M214.6 696.50H792.0" stroke="#505050" stroke-width="1" stroke-dasharray="1 1.03"/>
<path d="M7.6 708.50H173.5M214.6 708.50H792.0" stroke="#505050" stroke-width="1" stroke-dasharray="1 1.03"/>
<path d="M7.6 721.50H173.5M214.6 721.50H792.0" stroke="#505050" stroke-width="1" stroke-dasharray="1 1.03"/>
<path d="M7.6 734.50H173.5M214.6 734.50H792.0" stroke="#505050" stroke-width="1" stroke-dasharray="1 1.03"/>
<path d="M7.6 746.50H173.5M214.6 746.50H792.0" stroke="#505050" stroke-width="1" stroke-dasharray="1 1.03"/>
<path d="M7.6 632.6H12.5M65.5 632.6H110.0M163.5 632.6H173.5M7.6 759.8H10.2M15.4 759.8H30.9M36.1 759.8H51.7M56.9 759.8H62.0M67.2 759.8H103.5M108.7 759.8H124.2M129.4 759.8H142.4M152.8 759.8H163.1M7.6 631.9V760.5M173.5 631.9V760.5M214.6 632.6H482.0M523.5 632.6H792.0M225.0 759.8H235.2M245.6 759.8H266.1M276.5 759.8H297.0M307.4 759.8H328.0M338.4 759.8H358.9M369.3 759.8H389.8M400.2 759.8H420.8M431.2 759.8H451.7M462.1 759.8H482.6M493.0 759.8H513.6M524.0 759.8H544.5M554.9 759.8H575.4M585.8 759.8H606.4M616.8 759.8H637.3M647.7 759.8H668.2M678.6 759.8H699.2M709.6 759.8H730.1M740.5 759.8H761.0M771.4 759.8H781.6M214.6 631.9V760.5M792.0 631.9V760.5" stroke="#000" stroke-width="1.5" fill="none"/>
<text x="12.8" y="762.5" font-size="7.4" text-anchor="middle" fill="#000" style="font-family:'Liberation Sans',sans-serif">2</text>
<text x="33.5" y="762.5" font-size="7.4" text-anchor="middle" fill="#000" style="font-family:'Liberation Sans',sans-serif">4</text>
<text x="54.3" y="762.5" font-size="7.4" text-anchor="middle" fill="#000" style="font-family:'Liberation Sans',sans-serif">5</text>
<text x="64.6" y="762.5" font-size="7.4" text-anchor="middle" fill="#000" style="font-family:'Liberation Sans',sans-serif">6</text>
<text x="106.1" y="762.5" font-size="7.4" text-anchor="middle" fill="#000" style="font-family:'Liberation Sans',sans-serif">7</text>
<text x="126.8" y="762.5" font-size="7.4" text-anchor="middle" fill="#000" style="font-family:'Liberation Sans',sans-serif">9</text>
<text x="147.6" y="762.5" font-size="7.4" text-anchor="middle" fill="#000" style="font-family:'Liberation Sans',sans-serif">11</text>
<text x="168.3" y="762.5" font-size="7.4" text-anchor="middle" fill="#000" style="font-family:'Liberation Sans',sans-serif">13</text>
<text x="240.4" y="762.5" font-size="7.4" text-anchor="middle" fill="#000" style="font-family:'Liberation Sans',sans-serif">16</text>
<text x="271.3" y="762.5" font-size="7.4" text-anchor="middle" fill="#000" style="font-family:'Liberation Sans',sans-serif">19</text>
<text x="302.2" y="762.5" font-size="7.4" text-anchor="middle" fill="#000" style="font-family:'Liberation Sans',sans-serif">22</text>
<text x="333.2" y="762.5" font-size="7.4" text-anchor="middle" fill="#000" style="font-family:'Liberation Sans',sans-serif">25</text>
<text x="364.1" y="762.5" font-size="7.4" text-anchor="middle" fill="#000" style="font-family:'Liberation Sans',sans-serif">28</text>
<text x="395.0" y="762.5" font-size="7.4" text-anchor="middle" fill="#000" style="font-family:'Liberation Sans',sans-serif">31</text>
<text x="426.0" y="762.5" font-size="7.4" text-anchor="middle" fill="#000" style="font-family:'Liberation Sans',sans-serif">34</text>
<text x="456.9" y="762.5" font-size="7.4" text-anchor="middle" fill="#000" style="font-family:'Liberation Sans',sans-serif">37</text>
<text x="487.8" y="762.5" font-size="7.4" text-anchor="middle" fill="#000" style="font-family:'Liberation Sans',sans-serif">40</text>
<text x="518.8" y="762.5" font-size="7.4" text-anchor="middle" fill="#000" style="font-family:'Liberation Sans',sans-serif">43</text>
<text x="549.7" y="762.5" font-size="7.4" text-anchor="middle" fill="#000" style="font-family:'Liberation Sans',sans-serif">46</text>
<text x="580.6" y="762.5" font-size="7.4" text-anchor="middle" fill="#000" style="font-family:'Liberation Sans',sans-serif">49</text>
<text x="611.6" y="762.5" font-size="7.4" text-anchor="middle" fill="#000" style="font-family:'Liberation Sans',sans-serif">52</text>
<text x="642.5" y="762.5" font-size="7.4" text-anchor="middle" fill="#000" style="font-family:'Liberation Sans',sans-serif">55</text>
<text x="673.4" y="762.5" font-size="7.4" text-anchor="middle" fill="#000" style="font-family:'Liberation Sans',sans-serif">58</text>
<text x="704.4" y="762.5" font-size="7.4" text-anchor="middle" fill="#000" style="font-family:'Liberation Sans',sans-serif">61</text>
<text x="735.3" y="762.5" font-size="7.4" text-anchor="middle" fill="#000" style="font-family:'Liberation Sans',sans-serif">64</text>
<text x="766.2" y="762.5" font-size="7.4" text-anchor="middle" fill="#000" style="font-family:'Liberation Sans',sans-serif">67</text>
<text x="219.8" y="762.5" font-size="7.4" text-anchor="middle" fill="#000" style="font-family:'Liberation Sans',sans-serif">14</text>
<text x="784.6" y="762.5" font-size="7.4" text-anchor="middle" fill="#000" style="font-family:'Liberation Sans',sans-serif">69</text>
<text x="39.6" y="635.8" font-size="11.3" text-anchor="middle" font-weight="bold" style="font-family:'Liberation Sans',sans-serif">VHF Lo</text>
<text x="137.5" y="635.8" font-size="11.3" text-anchor="middle" font-weight="bold" style="font-family:'Liberation Sans',sans-serif">VHF Hi</text>
<text x="503.4" y="635.4" font-size="11.3" text-anchor="middle" font-weight="bold" style="font-family:'Liberation Sans',sans-serif">UHF</text>
<text x="194.0" y="635.8" font-size="11.2" text-anchor="middle" style="font-family:'Liberation Sans',sans-serif">dBm</text>
<text x="202.0" y="647.6" font-size="11" text-anchor="end" style="font-family:'Liberation Sans',sans-serif">-10</text>
<text x="202.0" y="660.3" font-size="11" text-anchor="end" style="font-family:'Liberation Sans',sans-serif">-20</text>
<text x="202.0" y="673.0" font-size="11" text-anchor="end" style="font-family:'Liberation Sans',sans-serif">-30</text>
<text x="202.0" y="685.8" font-size="11" text-anchor="end" style="font-family:'Liberation Sans',sans-serif">-40</text>
<text x="202.0" y="698.5" font-size="11" text-anchor="end" style="font-family:'Liberation Sans',sans-serif">-50</text>
<text x="202.0" y="711.2" font-size="11" text-anchor="end" style="font-family:'Liberation Sans',sans-serif">-60</text>
<text x="202.0" y="723.9" font-size="11" text-anchor="end" style="font-family:'Liberation Sans',sans-serif">-70</text>
<text x="202.0" y="736.6" font-size="11" text-anchor="end" style="font-family:'Liberation Sans',sans-serif">-80</text>
<text x="202.0" y="749.4" font-size="11" text-anchor="end" style="font-family:'Liberation Sans',sans-serif">-90</text>
<text x="193.8" y="762.2" font-size="9.6" text-anchor="middle" style="font-family:'Liberation Sans',sans-serif">Channel</text>
<path d="M113.2 706.3H119.8" stroke="#f4ec1c" stroke-width="6.2" stroke-linecap="round"/>
<path d="M19.9 716.8H26.5" stroke="#f4ec1c" stroke-width="6.2" stroke-linecap="round"/>
<path d="M165.0 735.6H171.6" stroke="#f4ec1c" stroke-width="6.2" stroke-linecap="round"/>
<path d="M9.5 741.1H16.1" stroke="#f4ec1c" stroke-width="6.2" stroke-linecap="round"/>
<path d="M113.2 742.3H119.8" stroke="#f4ec1c" stroke-width="6.2" stroke-linecap="round"/>
<path d="M19.9 747.7H26.5" stroke="#f4ec1c" stroke-width="6.2" stroke-linecap="round"/>
<path d="M165.0 759.4H171.6" stroke="#f4ec1c" stroke-width="6.2" stroke-linecap="round"/>
<path d="M9.5 744.2H16.1" stroke="#f4ec1c" stroke-width="6.2" stroke-linecap="round"/>
<path d="M123.5 736.7H130.1" stroke="#f4ec1c" stroke-width="6.2" stroke-linecap="round"/>
<path d="M133.9 740.3H140.5" stroke="#f4ec1c" stroke-width="6.2" stroke-linecap="round"/>
<path d="M154.6 740.7H161.2" stroke="#f4ec1c" stroke-width="6.2" stroke-linecap="round"/>
<path d="M113.3 706.3H119.7" stroke="#6f9fe0" stroke-width="3" stroke-linecap="round"/>
<text transform="translate(119.7 700.7) rotate(-90)" font-size="9.1" letter-spacing=".2" fill="#6f9fe0" style="font-family:'Liberation Sans',sans-serif">KSBW</text>
<path d="M216.6 706.4H223.0" stroke="#6f9fe0" stroke-width="3" stroke-linecap="round"/>
<text transform="translate(223.0 700.8) rotate(-90)" font-size="9.1" letter-spacing=".2" fill="#6f9fe0" style="font-family:'Liberation Sans',sans-serif">KTNC-TV</text>
<path d="M350.6 707.4H357.0" stroke="#6f9fe0" stroke-width="3" stroke-linecap="round"/>
<text transform="translate(357.0 701.8) rotate(-90)" font-size="9.1" letter-spacing=".2" fill="#6f9fe0" style="font-family:'Liberation Sans',sans-serif">KEXT-CA</text>
<path d="M20.0 716.8H26.4" stroke="#6f9fe0" stroke-width="3" stroke-linecap="round"/>
<text transform="translate(26.4 711.2) rotate(-90)" font-size="9.1" letter-spacing=".2" fill="#6f9fe0" style="font-family:'Liberation Sans',sans-serif">KCSO-LD</text>
<path d="M371.2 726.1H377.6" stroke="#6f9fe0" stroke-width="3" stroke-linecap="round"/>
<text transform="translate(377.7 720.5) rotate(-90)" font-size="9.1" letter-spacing=".2" fill="#6f9fe0" style="font-family:'Liberation Sans',sans-serif">K29AB</text>
<path d="M330.0 730.3H336.4" stroke="#6f9fe0" stroke-width="3" stroke-linecap="round"/>
<text transform="translate(336.4 724.7) rotate(-90)" font-size="9.1" letter-spacing=".2" fill="#6f9fe0" style="font-family:'Liberation Sans',sans-serif">KQET-DT</text>
<path d="M165.1 735.6H171.5" stroke="#6f9fe0" stroke-width="3" stroke-linecap="round"/>
<text transform="translate(171.6 730.0) rotate(-90)" font-size="9.1" letter-spacing=".2" fill="#6f9fe0" style="font-family:'Liberation Sans',sans-serif">KCBA-DT</text>
<path d="M9.6 741.1H16.0" stroke="#6f9fe0" stroke-width="3" stroke-linecap="round"/>
<text transform="translate(16.0 735.5) rotate(-90)" font-size="9.1" letter-spacing=".2" fill="#6f9fe0" style="font-family:'Liberation Sans',sans-serif">K02QO-D</text>
<path d="M288.7 741.2H295.1" stroke="#6f9fe0" stroke-width="3" stroke-linecap="round"/>
<text transform="translate(295.2 735.6) rotate(-90)" font-size="9.1" letter-spacing=".2" fill="#6f9fe0" style="font-family:'Liberation Sans',sans-serif">KMAX-TV</text>
<path d="M113.3 742.3H119.7" stroke="#6f9fe0" stroke-width="3" stroke-linecap="round"/>
<text transform="translate(119.7 736.7) rotate(-90)" font-size="9.1" letter-spacing=".2" fill="#6f9fe0" style="font-family:'Liberation Sans',sans-serif">KDTS-LD</text>
<path d="M350.6 743.1H357.0" stroke="#6f9fe0" stroke-width="3" stroke-linecap="round"/>
<text transform="translate(357.0 737.5) rotate(-90)" font-size="9.1" letter-spacing=".2" fill="#6f9fe0" style="font-family:'Liberation Sans',sans-serif">KTSF</text>
<path d="M288.7 745.7H295.1" stroke="#6f9fe0" stroke-width="3" stroke-linecap="round"/>
<text transform="translate(295.2 740.1) rotate(-90)" font-size="9.1" letter-spacing=".2" fill="#6f9fe0" style="font-family:'Liberation Sans',sans-serif">KMUV-LP</text>
<path d="M330.0 746.1H336.4" stroke="#6f9fe0" stroke-width="3" stroke-linecap="round"/>
<text transform="translate(336.4 740.5) rotate(-90)" font-size="9.1" letter-spacing=".2" fill="#6f9fe0" style="font-family:'Liberation Sans',sans-serif">KOVR</text>
<path d="M20.0 747.7H26.4" stroke="#6f9fe0" stroke-width="3" stroke-linecap="round"/>
<text transform="translate(26.4 742.1) rotate(-90)" font-size="9.1" letter-spacing=".2" fill="#6f9fe0" style="font-family:'Liberation Sans',sans-serif">K14MW-D</text>
<path d="M484.6 748.1H491.0" stroke="#6f9fe0" stroke-width="3" stroke-linecap="round"/>
<text transform="translate(491.1 742.5) rotate(-90)" font-size="9.1" letter-spacing=".2" fill="#6f9fe0" style="font-family:'Liberation Sans',sans-serif">KTXL-DT</text>
<path d="M371.2 750.1H377.6" stroke="#6f9fe0" stroke-width="3" stroke-linecap="round"/>
<text transform="translate(377.7 744.5) rotate(-90)" font-size="9.1" letter-spacing=".2" fill="#6f9fe0" style="font-family:'Liberation Sans',sans-serif">KPIX-TV</text>
<path d="M546.5 750.8H552.9" stroke="#6f9fe0" stroke-width="3" stroke-linecap="round"/>
<text transform="translate(552.9 745.2) rotate(-90)" font-size="9.1" letter-spacing=".2" fill="#6f9fe0" style="font-family:'Liberation Sans',sans-serif">KQCA-DT</text>
<path d="M268.1 751.5H274.5" stroke="#6f9fe0" stroke-width="3" stroke-linecap="round"/>
<text transform="translate(274.6 745.9) rotate(-90)" font-size="9.1" letter-spacing=".2" fill="#6f9fe0" style="font-family:'Liberation Sans',sans-serif">KOFY-TV</text>
<path d="M381.5 752.4H387.9" stroke="#6f9fe0" stroke-width="3" stroke-linecap="round"/>
<text transform="translate(388.0 746.8) rotate(-90)" font-size="9.1" letter-spacing=".2" fill="#6f9fe0" style="font-family:'Liberation Sans',sans-serif">KQED</text>
<path d="M464.0 752.6H470.4" stroke="#6f9fe0" stroke-width="3" stroke-linecap="round"/>
<text transform="translate(470.5 747.0) rotate(-90)" font-size="9.1" letter-spacing=".2" fill="#6f9fe0" style="font-family:'Liberation Sans',sans-serif">KRON-TV</text>
<path d="M474.3 753.2H480.7" stroke="#6f9fe0" stroke-width="3" stroke-linecap="round"/>
<text transform="translate(480.8 747.6) rotate(-90)" font-size="9.1" letter-spacing=".2" fill="#6f9fe0" style="font-family:'Liberation Sans',sans-serif">KCNS</text>
<path d="M402.1 753.7H408.5" stroke="#6f9fe0" stroke-width="3" stroke-linecap="round"/>
<text transform="translate(408.6 748.1) rotate(-90)" font-size="9.1" letter-spacing=".2" fill="#6f9fe0" style="font-family:'Liberation Sans',sans-serif">KION-DT</text>
<path d="M360.9 754.1H367.3" stroke="#6f9fe0" stroke-width="3" stroke-linecap="round"/>
<text transform="translate(367.4 748.5) rotate(-90)" font-size="9.1" letter-spacing=".2" fill="#6f9fe0" style="font-family:'Liberation Sans',sans-serif">KMMW-LD</text>
<path d="M525.9 754.6H532.3" stroke="#6f9fe0" stroke-width="3" stroke-linecap="round"/>
<text transform="translate(532.3 749.0) rotate(-90)" font-size="9.1" letter-spacing=".2" fill="#6f9fe0" style="font-family:'Liberation Sans',sans-serif">KTVU</text>
<path d="M515.6 756.1H522.0" stroke="#6f9fe0" stroke-width="3" stroke-linecap="round"/>
<text transform="translate(522.0 750.5) rotate(-90)" font-size="9.1" letter-spacing=".2" fill="#6f9fe0" style="font-family:'Liberation Sans',sans-serif">KMCE-LP</text>
<path d="M412.5 756.2H418.9" stroke="#6f9fe0" stroke-width="3" stroke-linecap="round"/>
<text transform="translate(418.9 750.6) rotate(-90)" font-size="9.1" letter-spacing=".2" fill="#6f9fe0" style="font-family:'Liberation Sans',sans-serif">KMTP-TV</text>
<path d="M515.6 757.0H522.0" stroke="#6f9fe0" stroke-width="3" stroke-linecap="round"/>
<text transform="translate(522.0 751.4) rotate(-90)" font-size="9.1" letter-spacing=".2" fill="#6f9fe0" style="font-family:'Liberation Sans',sans-serif">KCSM-TV</text>
<path d="M536.2 758.5H542.6" stroke="#6f9fe0" stroke-width="3" stroke-linecap="round"/>
<text transform="translate(542.6 752.9) rotate(-90)" font-size="9.1" letter-spacing=".2" fill="#6f9fe0" style="font-family:'Liberation Sans',sans-serif">KBCW</text>
<path d="M402.1 759.2H408.5" stroke="#6f9fe0" stroke-width="3" stroke-linecap="round"/>
<text transform="translate(408.6 753.6) rotate(-90)" font-size="9.1" letter-spacing=".2" fill="#6f9fe0" style="font-family:'Liberation Sans',sans-serif">KEMO-TV</text>
<path d="M165.1 759.4H171.5" stroke="#6f9fe0" stroke-width="3" stroke-linecap="round"/>
<text transform="translate(171.6 753.8) rotate(-90)" font-size="9.1" letter-spacing=".2" fill="#6f9fe0" style="font-family:'Liberation Sans',sans-serif">K13ZL-D</text>
<path d="M216.6 700.7H223.0" stroke="#c08ae0" stroke-width="3" stroke-linecap="round"/>
<text transform="translate(223.0 695.1) rotate(-90)" font-size="9.1" letter-spacing=".2" fill="#c08ae0" style="font-family:'Liberation Sans',sans-serif">KAZV-LP</text>
<path d="M371.2 721.8H377.6" stroke="#c08ae0" stroke-width="3" stroke-linecap="round"/>
<text transform="translate(377.7 716.2) rotate(-90)" font-size="9.1" letter-spacing=".2" fill="#c08ae0" style="font-family:'Liberation Sans',sans-serif">K29AB</text>
<path d="M412.5 732.1H418.9" stroke="#c08ae0" stroke-width="3" stroke-linecap="round"/>
<text transform="translate(418.9 726.5) rotate(-90)" font-size="9.1" letter-spacing=".2" fill="#c08ae0" style="font-family:'Liberation Sans',sans-serif">KDJT-CA</text>
<path d="M9.6 744.2H16.0" stroke="#c08ae0" stroke-width="3" stroke-linecap="round"/>
<text transform="translate(16.0 738.6) rotate(-90)" font-size="9.1" letter-spacing=".2" fill="#c08ae0" style="font-family:'Liberation Sans',sans-serif">KOTR-LP</text>
<path d="M515.6 744.3H522.0" stroke="#c08ae0" stroke-width="3" stroke-linecap="round"/>
<text transform="translate(522.0 738.7) rotate(-90)" font-size="9.1" letter-spacing=".2" fill="#c08ae0" style="font-family:'Liberation Sans',sans-serif">KMCE-LP</text>
<path d="M391.8 713.9H398.2" stroke="#0a46c8" stroke-width="3" stroke-linecap="round"/>
<text transform="translate(398.3 708.3) rotate(-90)" font-size="9.1" letter-spacing=".2" fill="#0a46c8" style="font-family:'Liberation Sans',sans-serif">KSMS-TV</text>
<path d="M422.8 718.6H429.2" stroke="#0a46c8" stroke-width="3" stroke-linecap="round"/>
<text transform="translate(429.2 713.0) rotate(-90)" font-size="9.1" letter-spacing=".2" fill="#0a46c8" style="font-family:'Liberation Sans',sans-serif">KACA-LP</text>
<path d="M226.9 728.1H233.3" stroke="#0a46c8" stroke-width="3" stroke-linecap="round"/>
<text transform="translate(233.3 722.5) rotate(-90)" font-size="9.1" letter-spacing=".2" fill="#0a46c8" style="font-family:'Liberation Sans',sans-serif">KBSV-DT</text>
<path d="M257.8 730.3H264.2" stroke="#0a46c8" stroke-width="3" stroke-linecap="round"/>
<text transform="translate(264.2 724.7) rotate(-90)" font-size="9.1" letter-spacing=".2" fill="#0a46c8" style="font-family:'Liberation Sans',sans-serif">KUVS-DT</text>
<path d="M123.6 736.7H130.0" stroke="#0a46c8" stroke-width="3" stroke-linecap="round"/>
<text transform="translate(130.1 731.1) rotate(-90)" font-size="9.1" letter-spacing=".2" fill="#0a46c8" style="font-family:'Liberation Sans',sans-serif">KVIE-DT</text>
<path d="M134.0 740.3H140.4" stroke="#0a46c8" stroke-width="3" stroke-linecap="round"/>
<text transform="translate(140.5 734.7) rotate(-90)" font-size="9.1" letter-spacing=".2" fill="#0a46c8" style="font-family:'Liberation Sans',sans-serif">KXTV</text>
<path d="M154.7 740.7H161.1" stroke="#0a46c8" stroke-width="3" stroke-linecap="round"/>
<text transform="translate(161.2 735.1) rotate(-90)" font-size="9.1" letter-spacing=".2" fill="#0a46c8" style="font-family:'Liberation Sans',sans-serif">KNTV-DT</text>
<path d="M494.9 742.6H501.3" stroke="#0a46c8" stroke-width="3" stroke-linecap="round"/>
<text transform="translate(501.4 737.0) rotate(-90)" font-size="9.1" letter-spacing=".2" fill="#0a46c8" style="font-family:'Liberation Sans',sans-serif">KKPX-DT</text>
<path d="M433.1 745.4H439.5" stroke="#0a46c8" stroke-width="3" stroke-linecap="round"/>
<text transform="translate(439.5 739.8) rotate(-90)" font-size="9.1" letter-spacing=".2" fill="#0a46c8" style="font-family:'Liberation Sans',sans-serif">KCRA-DT</text>
<path d="M340.3 755.0H346.7" stroke="#0a46c8" stroke-width="3" stroke-linecap="round"/>
<text transform="translate(346.7 749.4) rotate(-90)" font-size="9.1" letter-spacing=".2" fill="#0a46c8" style="font-family:'Liberation Sans',sans-serif">KTFK-DT</text>
<path d="M350.6 697.5H357.0" stroke="#6a00c4" stroke-width="3" stroke-linecap="round"/>
<text transform="translate(357.0 691.9) rotate(-90)" font-size="9.1" letter-spacing=".2" fill="#6a00c4" style="font-family:'Liberation Sans',sans-serif">KEXT-CA</text>
<path d="M422.8 706.5H429.2" stroke="#6a00c4" stroke-width="3" stroke-linecap="round"/>
<text transform="translate(429.2 700.9) rotate(-90)" font-size="9.1" letter-spacing=".2" fill="#6a00c4" style="font-family:'Liberation Sans',sans-serif">KACA-LP</text>
<path d="M577.4 712.1H583.8" stroke="#6a00c4" stroke-width="3" stroke-linecap="round"/>
<text transform="translate(583.9 706.5) rotate(-90)" font-size="9.1" letter-spacing=".2" fill="#6a00c4" style="font-family:'Liberation Sans',sans-serif">K49EO</text>
<path d="M309.4 726.7H315.8" stroke="#6a00c4" stroke-width="3" stroke-linecap="round"/>
<text transform="translate(315.8 721.1) rotate(-90)" font-size="9.1" letter-spacing=".2" fill="#6a00c4" style="font-family:'Liberation Sans',sans-serif">KMUV-LP</text>
</svg>
</div></body></html>
